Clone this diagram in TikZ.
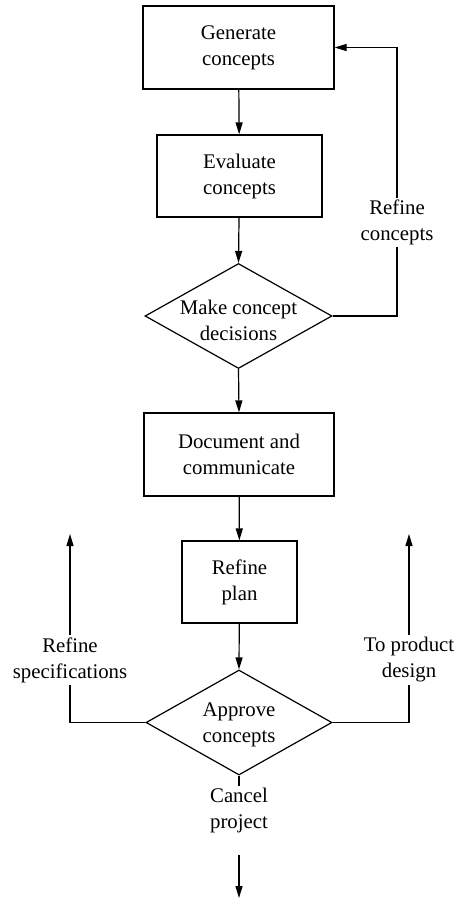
\documentclass[tikz,border=0pt]{standalone}
\usepackage{fontspec}
\setmainfont{Liberation Serif}
\usetikzlibrary{shapes.geometric,arrows.meta}
\begin{document}
\begin{tikzpicture}[x=1pt,y=-1pt,
  every node/.style={font=\fontsize{20.8pt}{26pt}\selectfont, align=center},
  procbox/.style={draw, line width=1.2pt, rectangle, inner sep=0pt},
  decbox/.style={draw, line width=1.2pt, diamond, inner sep=0pt},
  lbl/.style={inner sep=2pt},
  conn/.style={line width=1.2pt},
  arr/.style={line width=1.2pt, -{Triangle[length=12pt,width=7pt]}}]
\useasboundingbox (0,0) rectangle (455,900);
\node[procbox, minimum width=191pt, minimum height=83pt] (gen) at (238.5,47.5) {Generate\\concepts};
\node[procbox, minimum width=165pt, minimum height=82pt] (eval) at (239.5,176) {Evaluate\\concepts};
\node[decbox, minimum width=187pt, minimum height=105pt,
  label={[align=center,yshift=-4pt]center:Make concept\\decisions}] (dec) at (238.5,316) {};
\node[procbox, minimum width=190pt, minimum height=83pt] (doc) at (239,454.5) {Document and\\communicate};
\node[procbox, minimum width=115pt, minimum height=82pt] (plan) at (239.5,582) {Refine\\plan};
\node[decbox, minimum width=186pt, minimum height=105pt,
  label={[align=center,yshift=-2.5pt]center:Approve\\concepts}] (appr) at (239,722.5) {};
\node[lbl] (rc) at (397,222.5) {Refine\\concepts};
\node[lbl] (rs) at (70,660) {Refine\\specifications};
\node[lbl] (tp) at (409,660) {To product\\design};
\node[lbl] (cp) at (239,810.5) {Cancel\\project};
\coordinate (rsend) at (70,534);
\coordinate (tpend) at (409,534);
\coordinate (cpstart) at (239,855);
\coordinate (cpend) at (239,898);
\draw[arr] (gen) -- (eval);
\draw[arr] (eval) -- (dec.north);
\draw[conn] (dec.east) -| (rc.south);
\draw[arr] (rc.north) |- (gen.east);
\draw[arr] (dec.south) -- (doc.north);
\draw[arr] (doc) -- (plan);
\draw[arr] (plan) -- (appr.north);
\draw[conn] (appr.west) -| (rs.south);
\draw[arr] (rs.north) -- (rsend);
\draw[conn] (appr.east) -| (tp.south);
\draw[arr] (tp.north) -- (tpend);
\draw[conn] (appr.south) -- (cp.north);
\draw[arr] (cpstart) -- (cpend);
\end{tikzpicture}
\end{document}
